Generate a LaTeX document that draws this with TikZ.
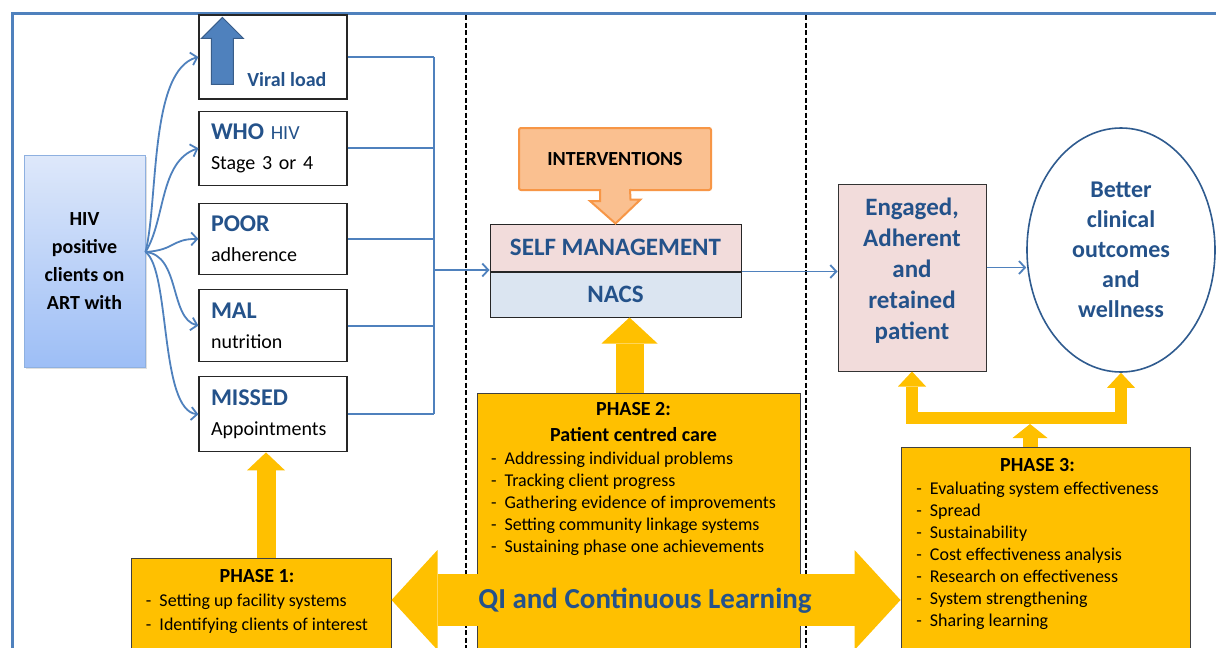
\documentclass[tikz,border=0pt]{standalone}
\usepackage{fontspec}
\setmainfont{Carlito}
\usepackage{tikz}
\usetikzlibrary{positioning,shapes.geometric,arrows.meta,shadows,calc}
\definecolor{qiLine}{HTML}{4F81BD}
\definecolor{qiText}{HTML}{24528A}
\definecolor{qiGold}{HTML}{FFC000}
\definecolor{qiPink}{HTML}{F2DCDB}
\definecolor{qiIce}{HTML}{DBE5F1}
\definecolor{qiPeach}{HTML}{FAC090}
\definecolor{qiOrange}{HTML}{F79646}
\definecolor{qiSkyTop}{HTML}{DEE8FA}
\definecolor{qiSkyBot}{HTML}{9DBEF6}
\definecolor{qiSkyEdge}{HTML}{8EB0E0}
\definecolor{qiNavy}{HTML}{2F5B8F}
\definecolor{qiArrowEdge}{HTML}{385D8A}
\newcommand{\bigLbl}{\fontsize{24}{30}\selectfont\bfseries\color{qiText}}
\newcommand{\phItem}{-\hspace{8pt}}
\newcommand{\phHead}[1]{\multicolumn{1}{@{}c@{}}{\fontsize{20}{26}\selectfont\bfseries #1}}
\tikzset{
    qiProblem/.style={
        rectangle,
        draw=black!85,
        line width=1.2pt,
        fill=white,
        minimum width=148pt,
        text width=124pt,
        inner xsep=12pt,
        inner ysep=0pt,
        align=left,
        font=\fontsize{20}{30}\selectfont
    },
    qiStack/.style={
        rectangle,
        draw=black!85,
        line width=1pt,
        minimum width=251pt,
        inner sep=0pt,
        font=\fontsize{25}{30}\selectfont\bfseries,
        text=qiText
    },
    qiPhase/.style={rectangle, draw=black!75, line width=1pt, fill=qiGold, inner sep=0pt},
    qiPhaseText/.style={inner sep=0pt, align=center, font=\fontsize{18}{22}\selectfont},
    % Gold arrows
    qiGoldUp/.style n args={3}{draw=qiGold, line width=#1, -{Triangle[length=#2, width=#3, line width=0pt]}},
    qiGoldFork/.style={draw=qiGold, line width=12pt, line join=miter,
        {Triangle[length=15pt, width=28pt, line width=0pt]}-{Triangle[length=15pt, width=28pt, line width=0pt]}},
    qiGoldBoth/.style={draw=qiGold, line width=52pt,
        {Triangle[length=46pt, width=100pt, line width=0pt]}-{Triangle[length=46pt, width=100pt, line width=0pt]}}
}
\begin{document}
\begin{tikzpicture}[
    x=1pt, y=-1pt,
    conn/.style={draw=qiLine, line width=1.8pt},
    arr/.style={conn, -{Straight Barb[length=6pt, width=13pt]}},
    sepLine/.style={draw=black, line width=1.6pt, dash pattern=on 5pt off 2.5pt}
]
\clip (0,0) rectangle (1216,648);
\fill[white] (0,0) rectangle (1216,648);

% frame and separators
\draw[qiLine, line width=3pt] (12,652) |- (1220,13);
\draw[sepLine] (466,15) -- (466,650);
\draw[sepLine] (806,15) -- (806,650);

% clients and problems
\node[rectangle, draw=qiSkyEdge, line width=1pt, top color=qiSkyTop, bottom color=qiSkyBot,
      minimum width=121pt, minimum height=212pt, align=center,
      font=\fontsize{20}{28}\selectfont\bfseries,
      drop shadow={opacity=0.25, shadow xshift=2pt, shadow yshift=-2pt}] (hiv) at (84.5,261)
      {HIV\\positive\\clients on\\ART with};
\node[qiProblem, minimum height=84pt] (vl) at (273,57) {};
\node[qiProblem, minimum height=74pt, below=11pt of vl] (who) {{\bigLbl WHO} {\color{qiText}HIV}\\Stage 3 or 4};
\node[qiProblem, minimum height=71pt, below=17pt of who] (poor) {{\bigLbl POOR}\\adherence};
\node[qiProblem, minimum height=72pt, below=14pt of poor] (mal) {{\bigLbl MAL}\\nutrition};
\node[qiProblem, minimum height=75pt, below=14pt of mal] (missed) {{\bigLbl MISSED}\\Appointments};
\filldraw[fill=qiLine, draw=qiArrowEdge, line width=1pt, shift={(vl.north west)}]
    (24,3) -- (45,24) -- (35,24) -- (35,70) -- (13,70) -- (13,24) -- (3,24) -- cycle;
\node[anchor=base east, inner sep=0pt, font=\fontsize{20}{24}\selectfont\bfseries, text=qiText]
    (vltxt) at ([xshift=-21pt, yshift=13pt]vl.south east) {Viral load};

\coordinate (fan) at ([yshift=9pt]hiv.east);
\draw[arr] (fan) .. controls +(13,-52) and +(-49,13) .. (vl.west);
\draw[arr] (fan) .. controls +(20,-32) and +(-39,13) .. (who.west);
\draw[arr] (fan) .. controls +(30,-2) and +(-27,0) .. (poor.west);
\draw[arr] (fan) .. controls +(35,3) and +(-29,-7) .. (mal.west);
\draw[arr] (fan) .. controls +(25,18) and +(-39,-4) .. (missed.west);

% self management
\node[qiStack, fill=qiPink, minimum height=47pt] (sm) at (615.5,247.5) {SELF MANAGEMENT};
\node[qiStack, fill=qiIce, minimum height=45pt, below=0pt of sm] (nacs) {NACS};
\node[rectangle, rounded corners=2pt, fill=qiPeach, draw=qiOrange, line width=2pt,
      minimum width=192pt, minimum height=62pt, font=\fontsize{20}{24}\selectfont\bfseries]
      (intv) at (615,159) {INTERVENTIONS};
\filldraw[fill=qiPeach, draw=qiOrange, line width=2pt, line join=miter]
    ([xshift=-15pt, yshift=2pt]intv.south) -- ++(0,12) -- ++(-10,0) -- (sm.north)
    -- ++(25,-24) -- ++(-10,0) -- ([xshift=15pt, yshift=2pt]intv.south);

\coordinate (bus) at (434,270);
\foreach \b in {vl,who,poor,mal,missed}
    \draw[conn] (\b.east) -- (\b.east -| bus);
\draw[conn] (vl.east -| bus) -- (missed.east -| bus);
\draw[arr] (bus) -- (bus -| sm.west);

% outcomes
\node[rectangle, draw=black!80, line width=1pt, fill=qiPink, minimum width=148pt, minimum height=187pt,
      align=center, font=\fontsize{25}{31}\selectfont\bfseries, text=qiText] (eng) at (912,277.5)
      {Engaged,\\Adherent\\and\\retained\\patient\\[-14pt]};
\node[ellipse, draw=qiNavy, line width=1.6pt, fill=white, minimum width=188pt, minimum height=244pt,
      inner sep=0pt, align=center, font=\fontsize{24}{30}\selectfont\bfseries, text=qiText] (outc) at (1121,250)
      {Better\\clinical\\outcomes\\and\\wellness};
\draw[arr] (sm.south east) -- (sm.south east -| eng.west);
\draw[arr] ([yshift=10pt]eng.east) -- ([yshift=10pt]eng.east -| outc.west);

% phases
\node[qiPhase, minimum width=260pt, minimum height=94pt] (ph1) at (261,605) {};
\node[qiPhaseText, font=\fontsize{18}{24}\selectfont, below=8.2pt of ph1.north, xshift=-4pt] (ph1t) {%
    \begin{tabular}{@{}l@{}}
    \phHead{PHASE 1:}\\
    \phItem Setting up facility systems\\
    \phItem Identifying clients of interest
    \end{tabular}};
\node[qiPhase, minimum width=323pt, minimum height=259pt] (ph2) at (638.5,522.5) {};
\node[qiPhaseText, below=7.6pt of ph2.north, xshift=-5pt] (ph2t) {%
    \begin{tabular}{@{}l@{}}
    \phHead{PHASE 2:}\\[4pt]
    \phHead{Patient centred care}\\[1pt]
    \phItem Addressing individual problems\\
    \phItem Tracking client progress\\
    \phItem Gathering evidence of improvements\\
    \phItem Setting community linkage systems\\
    \phItem Sustaining phase one achievements
    \end{tabular}};
\node[qiPhase, minimum width=289pt, minimum height=205pt] (ph3) at (1045.5,549.5) {};
\node[qiPhaseText, below=9.3pt of ph3.north, xshift=-8pt] (ph3t) {%
    \begin{tabular}{@{}l@{}}
    \phHead{PHASE 3:}\\[1pt]
    \phItem Evaluating system effectiveness\\
    \phItem Spread\\
    \phItem Sustainability\\
    \phItem Cost effectiveness analysis\\
    \phItem Research on effectiveness\\
    \phItem System strengthening\\
    \phItem Sharing learning
    \end{tabular}};

\draw[qiGoldUp={19pt}{18pt}{38pt}] ([xshift=5pt]ph1.north) -- ([xshift=5pt]ph1.north |- missed.south);
\draw[qiGoldUp={28pt}{26pt}{56pt}] ([xshift=-9pt]ph2.north) -- ([xshift=-9pt]ph2.north |- nacs.south);
\coordinate (fork) at (1030,418);
\draw[qiGoldFork] (eng.south) |- (fork) -| (outc.south);
\draw[qiGoldUp={15pt}{14pt}{35pt}] (ph3.north -| fork) -- ([yshift=-6pt]fork);

\coordinate (qi) at (645,600);
\draw[qiGoldBoth] (ph1.east |- qi) -- (ph3.west |- qi);
\node[font=\fontsize{29}{34}\selectfont\bfseries, text=qiText] (qitxt) at ([yshift=-1pt]qi) {QI and Continuous Learning};
\end{tikzpicture}
\end{document}
